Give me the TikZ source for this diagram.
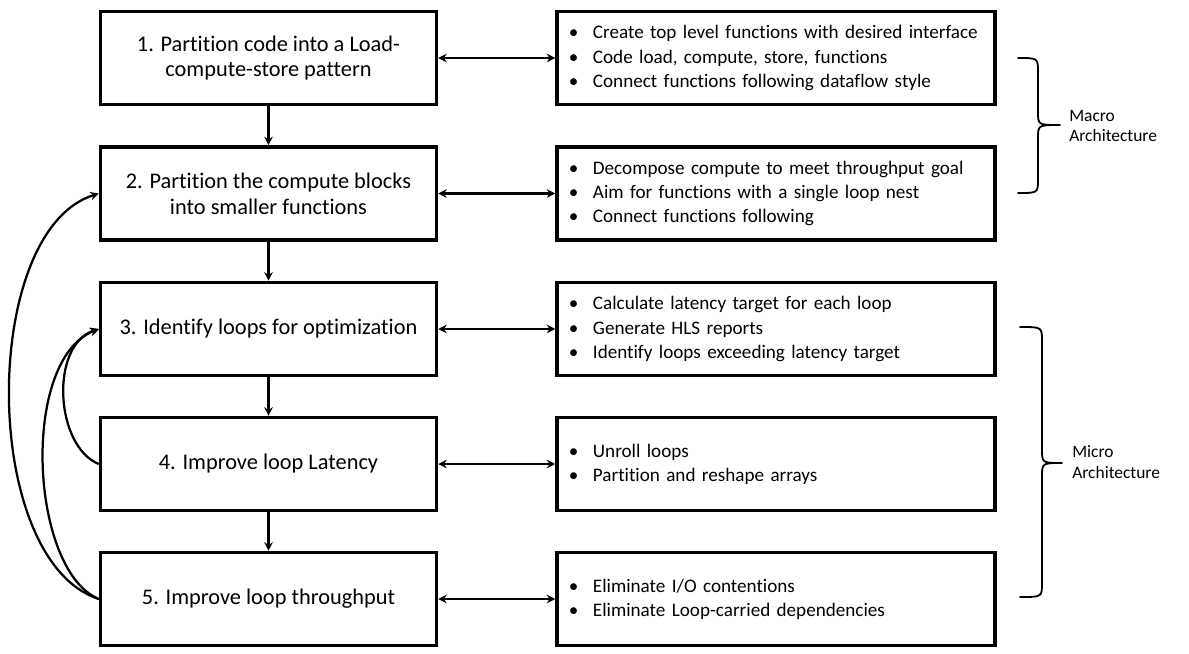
\documentclass[tikz,border=0pt]{standalone}
\usepackage{fontspec}
\setmainfont{Carlito}[Ligatures=NoCommon]
\usepackage{xcolor}
\usepackage{tikz}
\usetikzlibrary{arrows.meta}
\definecolor{ink}{HTML}{000000}
\definecolor{bg}{HTML}{FFFFFF}
\newcommand{\bul}{\makebox[0.6cm][l]{\textbullet}}
\tikzset{
  stage/.style={draw=ink, line width=2.4pt, minimum width=8.4cm, minimum height=2.33cm,
    align=center, text=ink, font=\fontsize{15.9}{18.4}\selectfont},
  detail/.style={draw=ink, line width=2.4pt, minimum width=10.95cm, minimum height=2.33cm,
    text width=10.35cm, inner xsep=0.3cm, align=left, text=ink,
    font=\fontsize{13.6}{17.2}\selectfont},
  flow/.style={draw=ink, line width=1.8pt, -{Stealth[length=6pt,width=6pt]}},
  both/.style={draw=ink, line width=1.8pt, {Stealth[length=6pt,width=6pt]}-{Stealth[length=6pt,width=6pt]}},
  back/.style={draw=ink, line width=1.6pt, -{Stealth[length=6pt,width=6pt]}},
  brc/.style={draw=ink, line width=1.3pt, line cap=round, line join=round},
  lbl/.style={font=\fontsize{12.4}{14.5}\selectfont, text=ink, align=left, anchor=west, inner sep=0pt}
}
\begin{document}
\begin{tikzpicture}[x=0.025cm, y=-0.025cm]
  \useasboundingbox[fill=bg] (0,0) rectangle (1189,653);

  % left column, one box per design step
  \node[stage] (s1) at (268.5,58) {1. Partition code into a Load-\\compute-store pattern};
  \node[stage] (s2) at (268.5,193.5) {2. Partition the compute blocks\\into smaller functions};
  \node[stage] (s3) at (268.5,329) {3. Identify loops for optimization};
  \node[stage] (s4) at (268.5,464) {4. Improve loop Latency};
  \node[stage] (s5) at (268.5,599) {5. Improve loop throughput};

  % right column, what each step involves
  \node[detail] (d1) at (776,58) {\bul Create top level functions with desired interface\\
    \bul Code load, compute, store, functions\\
    \bul Connect functions following dataflow style};
  \node[detail] (d2) at (776,193.5) {\bul Decompose compute to meet throughput goal\\
    \bul Aim for functions with a single loop nest\\
    \bul Connect functions following};
  \node[detail] (d3) at (776,329) {\bul Calculate latency target for each loop\\
    \bul Generate HLS reports\\
    \bul Identify loops exceeding latency target};
  \node[detail] (d4) at (776,464) {\bul Unroll loops\\
    \bul Partition and reshape arrays};
  \node[detail] (d5) at (776,599) {\bul Eliminate I/O contentions\\
    \bul Eliminate Loop-carried dependencies};

  % step to step
  \draw[flow] (s1.south) -- (s2.north);
  \draw[flow] (s2.south) -- (s3.north);
  \draw[flow] (s3.south) -- (s4.north);
  \draw[flow] (s4.south) -- (s5.north);

  % step to details
  \draw[both] (s1.east) -- (d1.west);
  \draw[both] (s2.east) -- (d2.west);
  \draw[both] (s3.east) -- (d3.west);
  \draw[both] (s4.east) -- (d4.west);
  \draw[both] (s5.east) -- (d5.west);

  % iterations back up the flow
  \draw[back] (s5.west) .. controls +(-119,-39) and +(-119,37) .. (s2.west);
  \draw[back] (s5.west) .. controls +(-69,-29) and +(-79,31) .. (s3.west);
  \draw[back] (s4.west) .. controls +(-44,-18) and +(-49,16) .. (s3.west);

  % braces on the right
  \draw[brc] (1018,58) .. controls (1038,58) .. (1038,72) -- (1038,112)
    .. controls (1038,125) .. (1060,125) .. controls (1038,125) .. (1038,138)
    -- (1038,179) .. controls (1038,193) .. (1018,193);
  \node[lbl] (macro) at (1069,126) {Macro\\Architecture};

  \draw[brc] (1020,327) .. controls (1042,327) .. (1042,341) -- (1042,449)
    .. controls (1042,463) .. (1062,463) .. controls (1042,463) .. (1042,477)
    -- (1042,583) .. controls (1042,597) .. (1020,597);
  \node[lbl] (micro) at (1072,462) {Micro\\Architecture};
\end{tikzpicture}
\end{document}
